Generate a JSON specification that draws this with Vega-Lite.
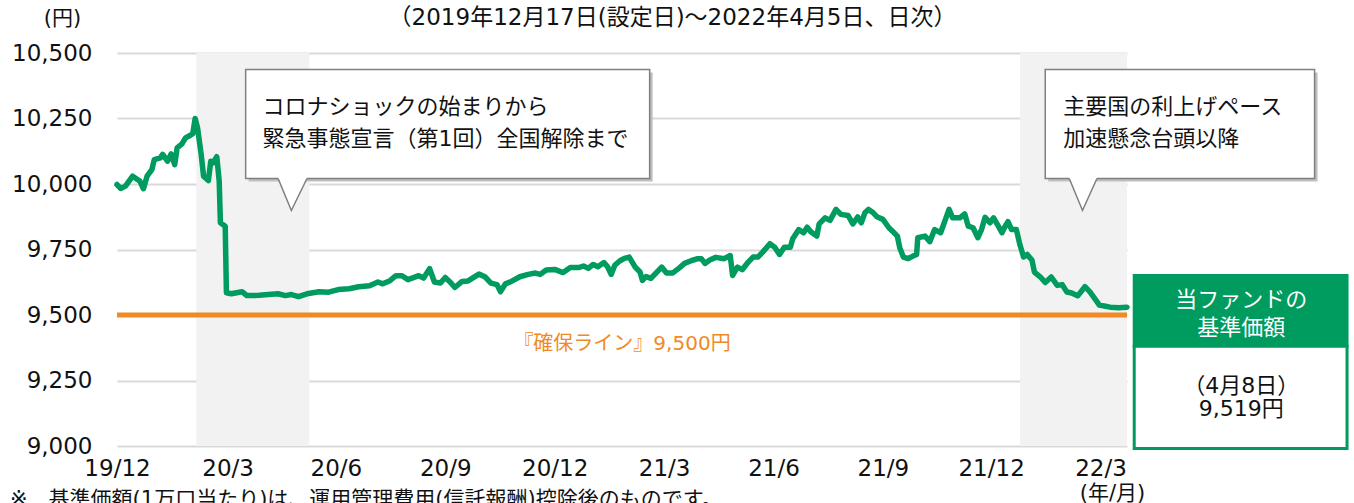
{
  "$schema": "https://vega.github.io/schema/vega-lite/v6.json",
  "autosize": {"type": "none"},
  "width": 1010,
  "height": 393,
  "padding": {"left": 117, "top": 53, "right": 227, "bottom": 57},
  "background": "white",
  "config": {
    "view": {"stroke": null},
    "font": "DejaVu Sans, Noto Sans CJK JP",
    "axis": {"labelFont": "DejaVu Sans, Noto Sans CJK JP", "titleFont": "DejaVu Sans, Noto Sans CJK JP"},
    "text": {"font": "DejaVu Sans, Noto Sans CJK JP"}
  },
  "datasets": {
    "nav": [
      {"date": "2019-12-17", "nav": 9998}, {"date": "2019-12-20", "nav": 9983}, {"date": "2019-12-24", "nav": 9992},
      {"date": "2019-12-30", "nav": 10030}, {"date": "2020-01-03", "nav": 10017}, {"date": "2020-01-05", "nav": 10011},
      {"date": "2020-01-08", "nav": 9982}, {"date": "2020-01-11", "nav": 10030}, {"date": "2020-01-15", "nav": 10055},
      {"date": "2020-01-17", "nav": 10093}, {"date": "2020-01-22", "nav": 10100}, {"date": "2020-01-24", "nav": 10113},
      {"date": "2020-01-28", "nav": 10087}, {"date": "2020-01-31", "nav": 10115}, {"date": "2020-02-03", "nav": 10074},
      {"date": "2020-02-05", "nav": 10138}, {"date": "2020-02-09", "nav": 10153}, {"date": "2020-02-12", "nav": 10176},
      {"date": "2020-02-16", "nav": 10186}, {"date": "2020-02-18", "nav": 10192}, {"date": "2020-02-20", "nav": 10250},
      {"date": "2020-02-22", "nav": 10214}, {"date": "2020-02-25", "nav": 10113}, {"date": "2020-02-27", "nav": 10030},
      {"date": "2020-03-02", "nav": 10013}, {"date": "2020-03-04", "nav": 10087}, {"date": "2020-03-06", "nav": 10081},
      {"date": "2020-03-09", "nav": 10104}, {"date": "2020-03-11", "nav": 10011}, {"date": "2020-03-12", "nav": 9852},
      {"date": "2020-03-16", "nav": 9839}, {"date": "2020-03-17", "nav": 9585}, {"date": "2020-03-21", "nav": 9581},
      {"date": "2020-03-30", "nav": 9589}, {"date": "2020-04-03", "nav": 9574}, {"date": "2020-04-13", "nav": 9575},
      {"date": "2020-04-21", "nav": 9578}, {"date": "2020-04-29", "nav": 9581}, {"date": "2020-05-05", "nav": 9574},
      {"date": "2020-05-10", "nav": 9578}, {"date": "2020-05-16", "nav": 9570}, {"date": "2020-05-23", "nav": 9581},
      {"date": "2020-06-02", "nav": 9589}, {"date": "2020-06-10", "nav": 9587}, {"date": "2020-06-18", "nav": 9597},
      {"date": "2020-06-27", "nav": 9600}, {"date": "2020-07-05", "nav": 9608}, {"date": "2020-07-14", "nav": 9612},
      {"date": "2020-07-21", "nav": 9626}, {"date": "2020-07-25", "nav": 9619}, {"date": "2020-07-31", "nav": 9631},
      {"date": "2020-08-05", "nav": 9650}, {"date": "2020-08-10", "nav": 9650}, {"date": "2020-08-15", "nav": 9635},
      {"date": "2020-08-24", "nav": 9650}, {"date": "2020-08-28", "nav": 9641}, {"date": "2020-09-02", "nav": 9677},
      {"date": "2020-09-06", "nav": 9626}, {"date": "2020-09-11", "nav": 9622}, {"date": "2020-09-15", "nav": 9643},
      {"date": "2020-09-19", "nav": 9626}, {"date": "2020-09-23", "nav": 9605}, {"date": "2020-09-29", "nav": 9628},
      {"date": "2020-10-04", "nav": 9630}, {"date": "2020-10-13", "nav": 9656}, {"date": "2020-10-18", "nav": 9646},
      {"date": "2020-10-23", "nav": 9622}, {"date": "2020-10-28", "nav": 9616}, {"date": "2020-10-31", "nav": 9589},
      {"date": "2020-11-04", "nav": 9619}, {"date": "2020-11-09", "nav": 9628}, {"date": "2020-11-16", "nav": 9646},
      {"date": "2020-11-23", "nav": 9655}, {"date": "2020-11-29", "nav": 9660}, {"date": "2020-12-03", "nav": 9655},
      {"date": "2020-12-08", "nav": 9672}, {"date": "2020-12-15", "nav": 9674}, {"date": "2020-12-22", "nav": 9662},
      {"date": "2020-12-28", "nav": 9681}, {"date": "2021-01-04", "nav": 9681}, {"date": "2021-01-08", "nav": 9687},
      {"date": "2021-01-12", "nav": 9678}, {"date": "2021-01-16", "nav": 9693}, {"date": "2021-01-20", "nav": 9684},
      {"date": "2021-01-25", "nav": 9700}, {"date": "2021-01-28", "nav": 9684}, {"date": "2021-01-31", "nav": 9655},
      {"date": "2021-02-03", "nav": 9690}, {"date": "2021-02-07", "nav": 9706}, {"date": "2021-02-11", "nav": 9716},
      {"date": "2021-02-15", "nav": 9721}, {"date": "2021-02-20", "nav": 9683}, {"date": "2021-02-24", "nav": 9664},
      {"date": "2021-02-26", "nav": 9632}, {"date": "2021-03-01", "nav": 9647}, {"date": "2021-03-05", "nav": 9640},
      {"date": "2021-03-10", "nav": 9664}, {"date": "2021-03-14", "nav": 9683}, {"date": "2021-03-18", "nav": 9660},
      {"date": "2021-03-23", "nav": 9660}, {"date": "2021-03-29", "nav": 9681}, {"date": "2021-04-02", "nav": 9697},
      {"date": "2021-04-08", "nav": 9708}, {"date": "2021-04-13", "nav": 9715}, {"date": "2021-04-16", "nav": 9715},
      {"date": "2021-04-19", "nav": 9697}, {"date": "2021-04-23", "nav": 9710}, {"date": "2021-04-28", "nav": 9720},
      {"date": "2021-05-05", "nav": 9715}, {"date": "2021-05-10", "nav": 9727}, {"date": "2021-05-12", "nav": 9651},
      {"date": "2021-05-16", "nav": 9683}, {"date": "2021-05-20", "nav": 9673}, {"date": "2021-05-25", "nav": 9702},
      {"date": "2021-05-29", "nav": 9721}, {"date": "2021-06-02", "nav": 9721}, {"date": "2021-06-06", "nav": 9740},
      {"date": "2021-06-12", "nav": 9772}, {"date": "2021-06-16", "nav": 9759}, {"date": "2021-06-20", "nav": 9731},
      {"date": "2021-06-24", "nav": 9759}, {"date": "2021-06-29", "nav": 9759}, {"date": "2021-07-01", "nav": 9791},
      {"date": "2021-07-06", "nav": 9826}, {"date": "2021-07-10", "nav": 9814}, {"date": "2021-07-13", "nav": 9835},
      {"date": "2021-07-16", "nav": 9818}, {"date": "2021-07-21", "nav": 9801}, {"date": "2021-07-23", "nav": 9848},
      {"date": "2021-07-28", "nav": 9871}, {"date": "2021-08-01", "nav": 9861}, {"date": "2021-08-06", "nav": 9903},
      {"date": "2021-08-10", "nav": 9884}, {"date": "2021-08-16", "nav": 9880}, {"date": "2021-08-20", "nav": 9848},
      {"date": "2021-08-24", "nav": 9874}, {"date": "2021-08-27", "nav": 9852}, {"date": "2021-08-30", "nav": 9890},
      {"date": "2021-09-02", "nav": 9903}, {"date": "2021-09-06", "nav": 9890}, {"date": "2021-09-09", "nav": 9875},
      {"date": "2021-09-14", "nav": 9865}, {"date": "2021-09-19", "nav": 9833}, {"date": "2021-09-22", "nav": 9820},
      {"date": "2021-09-26", "nav": 9801}, {"date": "2021-09-28", "nav": 9757}, {"date": "2021-10-01", "nav": 9721},
      {"date": "2021-10-05", "nav": 9715}, {"date": "2021-10-09", "nav": 9725}, {"date": "2021-10-12", "nav": 9731},
      {"date": "2021-10-13", "nav": 9795}, {"date": "2021-10-19", "nav": 9801}, {"date": "2021-10-23", "nav": 9780},
      {"date": "2021-10-27", "nav": 9826}, {"date": "2021-11-01", "nav": 9814}, {"date": "2021-11-05", "nav": 9865},
      {"date": "2021-11-08", "nav": 9903}, {"date": "2021-11-11", "nav": 9871}, {"date": "2021-11-17", "nav": 9871},
      {"date": "2021-11-21", "nav": 9886}, {"date": "2021-11-24", "nav": 9839}, {"date": "2021-11-28", "nav": 9833},
      {"date": "2021-12-02", "nav": 9795}, {"date": "2021-12-05", "nav": 9826}, {"date": "2021-12-08", "nav": 9873},
      {"date": "2021-12-12", "nav": 9852}, {"date": "2021-12-15", "nav": 9871}, {"date": "2021-12-19", "nav": 9839},
      {"date": "2021-12-22", "nav": 9814}, {"date": "2021-12-24", "nav": 9833}, {"date": "2021-12-27", "nav": 9856},
      {"date": "2021-12-30", "nav": 9826}, {"date": "2022-01-03", "nav": 9826}, {"date": "2022-01-06", "nav": 9767},
      {"date": "2022-01-09", "nav": 9722}, {"date": "2022-01-12", "nav": 9731}, {"date": "2022-01-16", "nav": 9709},
      {"date": "2022-01-18", "nav": 9664}, {"date": "2022-01-23", "nav": 9645}, {"date": "2022-01-27", "nav": 9624},
      {"date": "2022-02-01", "nav": 9645}, {"date": "2022-02-06", "nav": 9613}, {"date": "2022-02-10", "nav": 9616},
      {"date": "2022-02-14", "nav": 9588}, {"date": "2022-02-18", "nav": 9584}, {"date": "2022-02-23", "nav": 9573},
      {"date": "2022-03-01", "nav": 9608}, {"date": "2022-03-05", "nav": 9589}, {"date": "2022-03-11", "nav": 9551},
      {"date": "2022-03-13", "nav": 9538}, {"date": "2022-03-16", "nav": 9535}, {"date": "2022-03-22", "nav": 9530},
      {"date": "2022-03-29", "nav": 9528}, {"date": "2022-04-05", "nav": 9530}
    ],
    "shade": [
      {"start": "2020-02-21", "end": "2020-05-25"},
      {"start": "2022-01-06", "end": "2022-04-05"}
    ],
    "floor": [{"start": "2019-12-17", "end": "2022-04-05", "v": 9500}],
    "callouts": [
      {"x1": "2020-04-02", "x2": "2021-03-04", "top": 10437, "bottom": 10021},
      {"x1": "2022-01-27", "x2": "2022-09-08", "top": 10437, "bottom": 10021}
    ],
    "pointers": [
      {"g": 1, "date": "2020-04-29", "top": 10029, "fillbot": 10017, "edge": 10021},
      {"g": 1, "date": "2020-05-10", "top": 10029, "fillbot": 9899, "edge": 9899},
      {"g": 1, "date": "2020-05-23", "top": 10029, "fillbot": 10017, "edge": 10021},
      {"g": 2, "date": "2022-02-16", "top": 10029, "fillbot": 10017, "edge": 10021},
      {"g": 2, "date": "2022-02-27", "top": 10029, "fillbot": 9899, "edge": 9899},
      {"g": 2, "date": "2022-03-11", "top": 10029, "fillbot": 10017, "edge": 10021}
    ],
    "calloutText": [
      {"date": "2020-04-16", "v": 10292, "t": "コロナショックの始まりから"},
      {"date": "2020-04-16", "v": 10170, "t": "緊急事態宣言（第1回）全国解除まで"},
      {"date": "2022-02-11", "v": 10292, "t": "主要国の利上げペース"},
      {"date": "2022-02-11", "v": 10170, "t": "加速懸念台頭以降"}
    ],
    "floorText": [{"date": "2021-02-09", "v": 9391, "t": "『確保ライン』9,500円"}],
    "subtitle": [{"date": "2021-03-23", "v": 10635, "t": "（2019年12月17日(設定日)～2022年4月5日、日次）"}],
    "footnote": [{"date": "2019-09-19", "v": 8792, "t": "※　基準価額(1万口当たり)は、運用管理費用(信託報酬)控除後のものです。"}],
    "navBox": [
      {"part": "head", "x1": "2022-04-11", "x2": "2022-10-05", "top": 9651, "bottom": 9381},
      {"part": "body", "x1": "2022-04-11", "x2": "2022-10-05", "top": 9381, "bottom": 8990}
    ],
    "headText": [
      {"date": "2022-07-09", "v": 9556, "t": "当ファンドの"},
      {"date": "2022-07-09", "v": 9451, "t": "基準価額"}
    ],
    "bodyText": [
      {"date": "2022-07-09", "v": 9228, "t": "（4月8日）"},
      {"date": "2022-07-09", "v": 9142, "t": "9,519円"}
    ]
  },
  "layer": [
    {
      "data": {"name": "shade"},
      "mark": {"type": "rect", "color": "#F2F2F2"},
      "encoding": {
        "x": {
          "field": "start", "type": "temporal",
          "scale": {"type": "utc", "nice": false, "domain": [{"year": 2019, "month": 12, "date": 17, "utc": true}, {"year": 2022, "month": 4, "date": 5, "utc": true}]},
          "axis": {
            "values": [
              {"year": 2019, "month": 12, "date": 17, "utc": true},
              {"year": 2020, "month": 3, "date": 18, "utc": true},
              {"year": 2020, "month": 6, "date": 16, "utc": true},
              {"year": 2020, "month": 9, "date": 15, "utc": true},
              {"year": 2020, "month": 12, "date": 15, "utc": true},
              {"year": 2021, "month": 3, "date": 16, "utc": true},
              {"year": 2021, "month": 6, "date": 15, "utc": true},
              {"year": 2021, "month": 9, "date": 14, "utc": true},
              {"year": 2021, "month": 12, "date": 13, "utc": true},
              {"year": 2022, "month": 3, "date": 14, "utc": true}
            ],
            "labelExpr": "utcFormat(datum.value, '%y/%-m')",
            "labelFontSize": 23, "labelColor": "#111111", "labelPadding": 22, "labelBaseline": "middle",
            "labelFlush": false, "labelOverlap": false,
            "domain": false, "ticks": false, "grid": false,
            "title": "(年/月)", "titleFontSize": 21, "titleFontWeight": "normal", "titleColor": "#111111",
            "titleX": 995, "titleY": 47, "titleAlign": "center", "titleBaseline": "middle"
          }
        },
        "x2": {"field": "end"},
        "y": {
          "datum": 10500, "type": "quantitative",
          "scale": {"domain": [9000, 10500], "nice": false, "zero": false},
          "axis": {
            "values": [9000, 9250, 9500, 9750, 10000, 10250, 10500],
            "labelExpr": "format(datum.value, ',d')",
            "labelFontSize": 23, "labelColor": "#111111", "labelPadding": 25,
            "domain": false, "ticks": false, "grid": true, "gridColor": "#D9D9D9", "gridWidth": 2,
            "title": "(円)", "titleAngle": 0, "titleX": -55, "titleY": -35, "titleFontSize": 21,
            "titleFontWeight": "normal", "titleColor": "#111111", "titleAlign": "center", "titleBaseline": "middle"
          }
        },
        "y2": {"datum": 9000}
      }
    },
    {
      "data": {"name": "floor"},
      "mark": {"type": "rule", "color": "#F08A24", "strokeWidth": 5, "strokeCap": "butt"},
      "encoding": {
        "x": {"field": "start", "type": "temporal"},
        "x2": {"field": "end"},
        "y": {"field": "v", "type": "quantitative"}
      }
    },
    {
      "data": {"name": "nav"},
      "mark": {"type": "line", "color": "#009B5E", "strokeWidth": 5.5, "strokeJoin": "round", "strokeCap": "round"},
      "encoding": {
        "x": {"field": "date", "type": "temporal"},
        "y": {"field": "nav", "type": "quantitative"}
      }
    },
    {
      "data": {"name": "callouts"},
      "mark": {"type": "rect", "fill": "#BFBFBF", "xOffset": 3, "x2Offset": 3, "yOffset": 3, "y2Offset": 3},
      "encoding": {
        "x": {"field": "x1", "type": "temporal"},
        "x2": {"field": "x2"},
        "y": {"field": "top", "type": "quantitative"},
        "y2": {"field": "bottom"}
      }
    },
    {
      "data": {"name": "callouts"},
      "mark": {"type": "rect", "fill": "#FFFFFF", "stroke": "#7F7F7F", "strokeWidth": 1.5},
      "encoding": {
        "x": {"field": "x1", "type": "temporal"},
        "x2": {"field": "x2"},
        "y": {"field": "top", "type": "quantitative"},
        "y2": {"field": "bottom"}
      }
    },
    {
      "data": {"name": "pointers"},
      "mark": {"type": "area", "color": "#FFFFFF", "interpolate": "linear"},
      "encoding": {
        "x": {"field": "date", "type": "temporal"},
        "y": {"field": "top", "type": "quantitative"},
        "y2": {"field": "fillbot"},
        "detail": {"field": "g", "type": "nominal"}
      }
    },
    {
      "data": {"name": "pointers"},
      "mark": {"type": "line", "color": "#7F7F7F", "strokeWidth": 1.5},
      "encoding": {
        "x": {"field": "date", "type": "temporal"},
        "y": {"field": "edge", "type": "quantitative"},
        "detail": {"field": "g", "type": "nominal"}
      }
    },
    {
      "data": {"name": "calloutText"},
      "mark": {"type": "text", "align": "left", "baseline": "middle", "fontSize": 22, "color": "#111111"},
      "encoding": {
        "x": {"field": "date", "type": "temporal"},
        "y": {"field": "v", "type": "quantitative"},
        "text": {"field": "t"}
      }
    },
    {
      "data": {"name": "floorText"},
      "mark": {"type": "text", "align": "center", "baseline": "middle", "fontSize": 20, "color": "#F08A24"},
      "encoding": {
        "x": {"field": "date", "type": "temporal"},
        "y": {"field": "v", "type": "quantitative"},
        "text": {"field": "t"}
      }
    },
    {
      "data": {"name": "subtitle"},
      "mark": {"type": "text", "align": "center", "baseline": "middle", "fontSize": 23, "color": "#111111"},
      "encoding": {
        "x": {"field": "date", "type": "temporal"},
        "y": {"field": "v", "type": "quantitative"},
        "text": {"field": "t"}
      }
    },
    {
      "data": {"name": "footnote"},
      "mark": {"type": "text", "align": "left", "baseline": "middle", "fontSize": 21, "color": "#111111"},
      "encoding": {
        "x": {"field": "date", "type": "temporal"},
        "y": {"field": "v", "type": "quantitative"},
        "text": {"field": "t"}
      }
    },
    {
      "data": {"name": "navBox"},
      "mark": {"type": "rect", "stroke": "#009B5E", "strokeWidth": 3},
      "encoding": {
        "x": {"field": "x1", "type": "temporal"},
        "x2": {"field": "x2"},
        "y": {"field": "top", "type": "quantitative"},
        "y2": {"field": "bottom"},
        "fill": {"field": "part", "type": "nominal", "scale": {"domain": ["head", "body"], "range": ["#009B5E", "#FFFFFF"]}, "legend": null}
      }
    },
    {
      "data": {"name": "headText"},
      "mark": {"type": "text", "align": "center", "baseline": "middle", "fontSize": 22, "color": "#FFFFFF"},
      "encoding": {
        "x": {"field": "date", "type": "temporal"},
        "y": {"field": "v", "type": "quantitative"},
        "text": {"field": "t"}
      }
    },
    {
      "data": {"name": "bodyText"},
      "mark": {"type": "text", "align": "center", "baseline": "middle", "fontSize": 22, "color": "#111111"},
      "encoding": {
        "x": {"field": "date", "type": "temporal"},
        "y": {"field": "v", "type": "quantitative"},
        "text": {"field": "t"}
      }
    }
  ]
}
